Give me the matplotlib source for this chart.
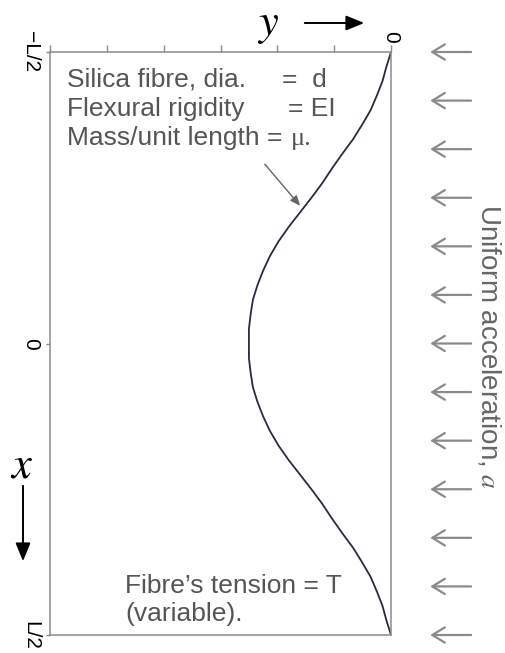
import matplotlib
matplotlib.use("Agg")
import matplotlib.pyplot as plt
import numpy as np

plt.rcParams.update({
    "font.family": ["Liberation Sans", "DejaVu Sans"],
    "mathtext.fontset": "stix",
    "axes.linewidth": 1.1,
    "axes.edgecolor": "#8a8a8a",
})

# ---- fibre shape (x along the fibre, y = deflection) ----
x_pos = [-0.500, -0.475, -0.450, -0.425, -0.400, -0.375, -0.350, -0.325, -0.300,
         -0.275, -0.250, -0.225, -0.200, -0.175, -0.150, -0.125, -0.100, -0.075,
         -0.050, -0.025, 0.000, 0.025, 0.050, 0.075, 0.100, 0.125, 0.150, 0.175,
         0.200, 0.225, 0.250, 0.275, 0.300, 0.325, 0.350, 0.375, 0.400, 0.425,
         0.450, 0.475, 0.500]
y_defl = [0.00, -0.08, -0.15, -0.25, -0.36, -0.51, -0.67, -0.86, -1.04,
          -1.21, -1.40, -1.60, -1.80, -1.98, -2.13, -2.25, -2.35, -2.43,
          -2.47, -2.50, -2.50, -2.50, -2.47, -2.43, -2.35, -2.25, -2.13, -1.98,
          -1.80, -1.60, -1.40, -1.21, -1.04, -0.86, -0.67, -0.51, -0.36, -0.25,
          -0.15, -0.08, 0.00]

y_ticks = [-6, -5, -4, -3, -2, -1, 0]
y_ticklabels = ["", "", "", "", "", "", "0"]
x_ticks = [-0.5, 0.0, 0.5]
x_ticklabels = ["\u2212L/2", "0", "L/2"]

W, H = 505, 653
fig = plt.figure(figsize=(W / 100, H / 100), dpi=100)
ax = fig.add_axes([50 / W, 1 - 635 / H, 341 / W, 583 / H])


def fx(px):
    return px / W


def fy(py):
    return 1 - py / H


ax.plot(y_defl, x_pos, color="#2a2a40", linewidth=1.3, solid_capstyle="round")
ax.set_xlim(-6, 0)
ax.set_ylim(0.5, -0.5)

ax.xaxis.tick_top()
ax.set_xticks(y_ticks)
ax.set_xticklabels(y_ticklabels, rotation=-90, fontsize=15)
ax.tick_params(axis="x", direction="out", length=5, width=1, color="#8a8a8a", pad=2)
ax.set_yticks(x_ticks)
ax.set_yticklabels(x_ticklabels, rotation=-90, fontsize=15, va="center")
ax.tick_params(axis="y", direction="out", length=3, width=1, color="#8a8a8a", pad=4)

# text inside the frame
tc = "#555555"
fs = 19
fig.text(fx(67), fy(80), "Silica fibre, dia.", color=tc, fontsize=fs, va="center")
fig.text(fx(282), fy(80), "=  d", color=tc, fontsize=fs, va="center")
fig.text(fx(67), fy(109), "Flexural rigidity", color=tc, fontsize=fs, va="center")
fig.text(fx(288), fy(109), "= EI", color=tc, fontsize=fs, va="center")
fig.text(fx(67), fy(138), "Mass/unit length =", color=tc, fontsize=fs, va="center")
fig.text(fx(291), fy(139), "\u03bc.", color=tc, fontsize=fs, va="center",
         family=["Liberation Serif", "DejaVu Serif"])
fig.text(fx(125), fy(586), "Fibre\u2019s tension = T", color=tc, fontsize=fs, va="center")
fig.text(fx(125), fy(614), "(variable).", color=tc, fontsize=fs, va="center")

fig.add_artist(matplotlib.patches.FancyArrowPatch(
    (fx(263), fy(162)), (fx(302), fy(208)), transform=fig.transFigure,
    arrowstyle="-|>,head_length=0.6,head_width=0.25", mutation_scale=10,
    color="#666666", linewidth=1.0))

# axis direction labels
fig.text(fx(268), fy(25), "$y$", fontsize=32, ha="center", va="center")
fig.add_artist(matplotlib.patches.FancyArrowPatch(
    (fx(302), fy(23)), (fx(367), fy(23)), transform=fig.transFigure,
    arrowstyle="-|>,head_length=1.1,head_width=0.45", mutation_scale=10,
    color="black", linewidth=1.4))
fig.text(fx(22), fy(466), "$x$", fontsize=32, ha="center", va="center")
fig.add_artist(matplotlib.patches.FancyArrowPatch(
    (fx(23), fy(483)), (fx(23), fy(564)), transform=fig.transFigure,
    arrowstyle="-|>,head_length=1.1,head_width=0.45", mutation_scale=10,
    color="black", linewidth=1.4))

# uniform acceleration arrows on the right
for xp in np.linspace(-0.5, 0.5, 13):
    ax.annotate("", xy=(1.115, xp), xytext=(1.235, xp),
                xycoords=("axes fraction", "data"), textcoords=("axes fraction", "data"),
                arrowprops=dict(arrowstyle="->,head_length=0.9,head_width=0.55",
                                color="#8a8a8a", linewidth=1.6, shrinkA=0, shrinkB=0),
                annotation_clip=False)
fig.text(fx(489), fy(347), "Uniform acceleration, $a$", rotation=-90, color="#666666",
         fontsize=20, ha="center", va="center")

fig.savefig("out.png", dpi=100)
